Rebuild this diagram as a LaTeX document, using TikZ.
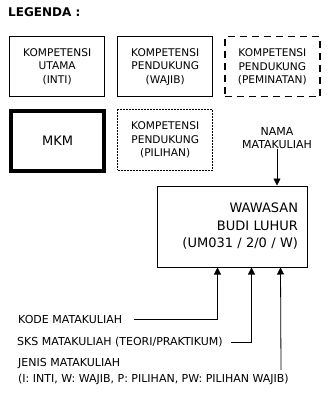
\documentclass[tikz,border=0pt]{standalone}
\usepackage{fontspec}
\setmainfont{DejaVu Sans}
\usetikzlibrary{matrix,arrows.meta}

\tikzset{
  kotak/.style={draw, line width=1pt, align=center, minimum width=95pt, minimum height=60pt,
    inner sep=1pt, font=\fontsize{10.6}{13.5}\selectfont},
  peminatan/.style={kotak, line width=1.3pt, dash pattern=on 7pt off 5pt},
  pilihan/.style={kotak, line width=1pt, dash pattern=on 2pt off 1pt},
  mkm/.style={kotak, line width=4pt, minimum width=93pt, minimum height=59pt,
    font=\fontsize{13}{15}\selectfont},
  keterangan/.style={inner sep=0pt, font=\fontsize{11}{16}\selectfont},
  panah/.style={line width=0.8pt, -{Triangle[length=7pt,width=7pt]}}
}

\begin{document}
\begin{tikzpicture}[x=1pt,y=-1pt]
 \useasboundingbox (0,0) rectangle (327,406);
 \node[anchor=west, inner sep=0pt, font=\bfseries\fontsize{12}{14}\selectfont] (judul) at (8,12) {LEGENDA :};
 \matrix (m) [anchor=north west, inner sep=0pt, row sep=12pt, column sep=11pt] at (9,36)
  {
    \node[kotak] (inti) {KOMPETENSI\\UTAMA\\(INTI)}; &
    \node[kotak] (wajib) {KOMPETENSI\\PENDUKUNG\\(WAJIB)}; &
    \node[peminatan] (minat) {KOMPETENSI\\PENDUKUNG\\(PEMINATAN)}; \\
    \node[mkm] (mkm) {MKM}; &
    \node[pilihan] (pilih) {KOMPETENSI\\PENDUKUNG\\(PILIHAN)}; & \\
  };

 % contoh matakuliah
 \node[draw, line width=1pt, minimum width=150pt, minimum height=81pt, inner sep=0pt,
   text width=132pt, align=right, font=\fontsize{13}{17.5}\selectfont] (mk) at (232,226.5)
   {WAWASAN\\BUDI LUHUR\\(UM031 / 2/0 / W)};
 \node[align=center, inner sep=0pt, font=\fontsize{11}{13}\selectfont] (nama) at (277,138)
   {NAMA\\MATAKULIAH};
 \draw[panah] (nama) -- (nama |- mk.north);

 \coordinate (kodeIn) at ([xshift=61pt]mk.south west);
 \coordinate (sksIn) at ([xshift=95pt]mk.south west);
 \coordinate (jenisIn) at ([xshift=124pt]mk.south west);

 \node[keterangan, anchor=west] (kode) at (18,319) {KODE MATAKULIAH};
 \node[keterangan, anchor=west] (sks) at (17,342) {SKS MATAKULIAH (TEORI/PRAKTIKUM)};
 \node[keterangan, anchor=north west, align=left] (jenis) at (18,358)
   {JENIS MATAKULIAH\\(I: INTI, W: WAJIB, P: PILIHAN, PW: PILIHAN WAJIB)};
 \coordinate (jenisEnd) at (281,370);

 \draw[panah, shorten <=12pt] (kode.east) -| (kodeIn);
 \draw[panah, shorten <=8pt] (sks.east) -| (sksIn);
 \draw[panah] (jenisEnd) -- (jenisIn);
\end{tikzpicture}
\end{document}
